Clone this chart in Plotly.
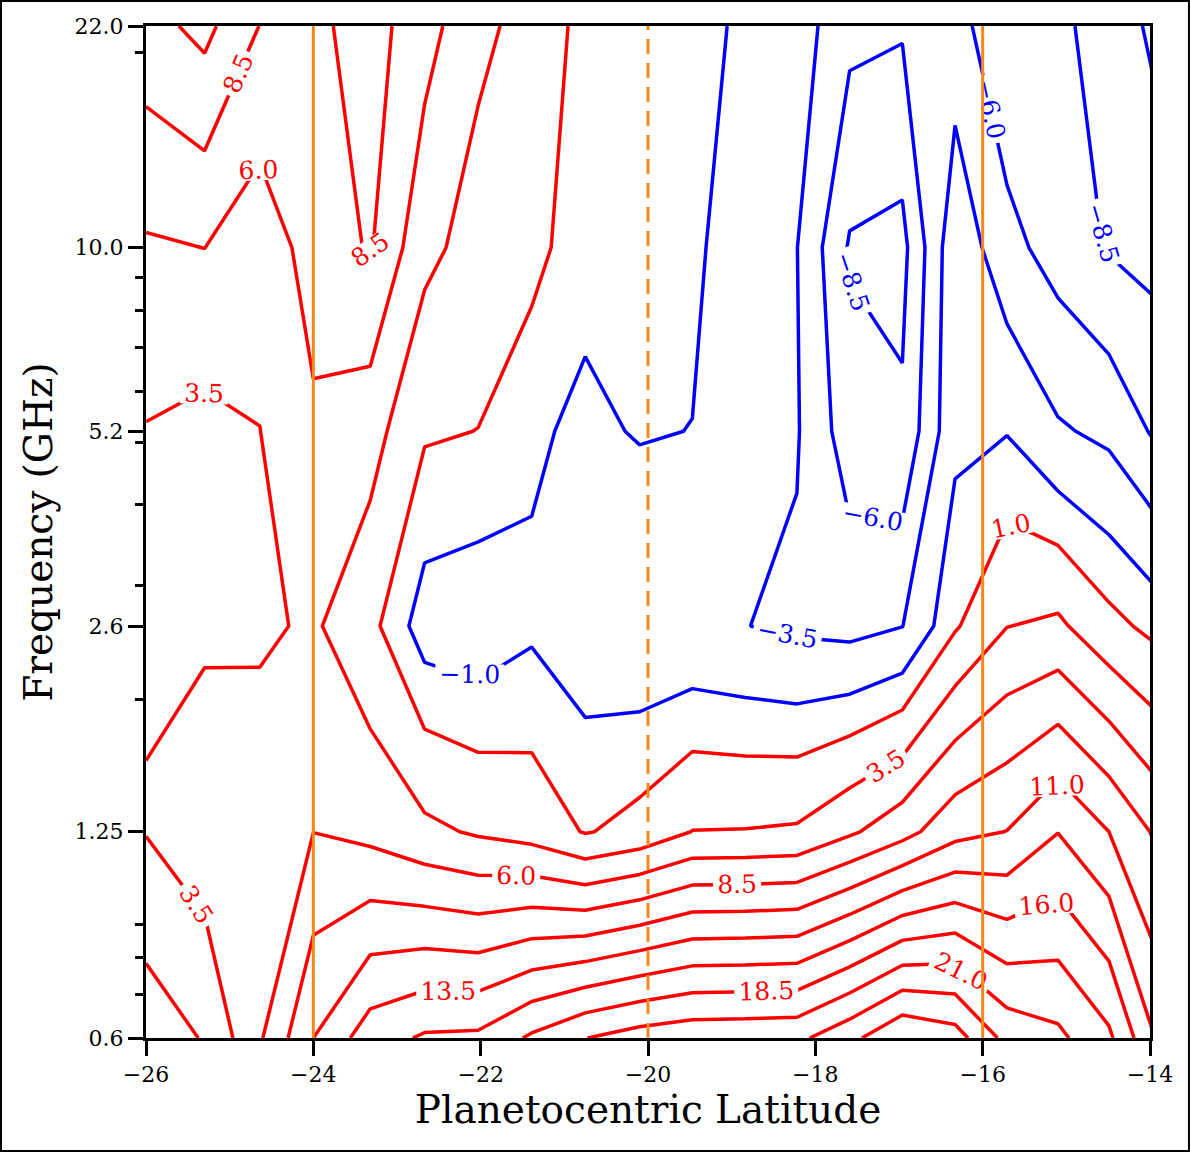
import plotly.graph_objects as go

# Latitude grid (degrees, planetocentric) and the six radiometer frequencies (GHz)
latitude = [-26.0, -25.3, -24.64, -24.0, -23.32, -22.67, -22.03, -21.39, -20.75, -20.1,
            -19.47, -18.84, -18.22, -17.59, -16.96, -16.33, -15.71, -15.1, -14.49, -13.88]
frequency_ghz = [0.6, 1.25, 2.6, 5.2, 10.0, 22.0]

# Residual values, one row per frequency
resid_0p6 = [-0.47, 1.18, 5.7, 11.0, 14.85, 16.32, 16.5, 18.9, 20.95, 22.1,
             22.7, 22.8, 22.92, 25.3, 28.3, 27.1, 22.7, 21.56, 18.97, 12.9]
resid_1p25 = [3.59, 5.07, 5.1, 5.98, 5.32, 4.07, 3.2, 2.5, 0.84, 1.8,
              3.55, 3.6, 3.81, 5.6, 7.6, 10.2, 11.05, 13.45, 11.0, 7.88]
resid_2p6 = [3.33, 3.1, 3.1, 3.84, 1.68, -2.09, -2.5, -1.4, -2.47, -3.0,
             -2.99, -3.45, -3.93, -4.27, -3.55, 0.73, 3.45, 3.97, 1.7, 0.21]
resid_5p2 = [3.38, 2.77, 3.47, 5.6, 4.5, 1.27, 0.97, -0.69, -1.41, -0.85,
             -1.03, -2.0, -3.3, -7.39, -8.05, -1.56, -1.1, -3.2, -4.06, -6.61]
resid_10 = [5.7, 6.02, 4.5, 7.0, 8.74, 4.17, 2.5, 1.8, -0.4, -0.2,
            -0.6, -2.14, -3.45, -8.76, -9.26, -1.66, -5.2, -7.06, -8.7, -9.3]
resid_22 = [10.1, 11.7, 8.45, 7.96, 9.5, 7.0, 4.06, 2.69, 0.2, 0.0,
            -0.3, -1.36, -2.3, -5.3, -5.72, -5.0, -8.03, -8.2, -9.1, -12.0]
residual = [resid_0p6, resid_1p25, resid_2p6, resid_5p2, resid_10, resid_22]

# Contour levels: negative (blue) and positive (red)
neg_levels = dict(start=-11.0, end=-1.0, size=2.5)
pos_levels = dict(start=1.0, end=26.0, size=2.5)

# Axis ticks
lat_ticks = [-26, -24, -22, -20, -18, -16, -14]
freq_ticks = [0.6, 1.25, 2.6, 5.2, 10.0, 22.0]
freq_tick_text = ["0.6", "1.25", "2.6", "5.2", "10.0", "22.0"]
freq_minor = [0.7, 0.8, 0.9, 2, 3, 4, 5, 6, 7, 8, 9, 20]

# Reference latitudes marked with vertical lines
marker_lats = [-24, -20, -16]
marker_dash = ["solid", "15px,9px", "solid"]

SERIF = "DejaVu Serif"
ORANGE = "#f5871f"


def contour_trace(levels, color):
    return go.Contour(
        x=latitude, y=frequency_ghz, z=residual,
        autocontour=False,
        contours=dict(start=levels["start"], end=levels["end"], size=levels["size"],
                      coloring="lines", showlabels=True, labelformat=".1f",
                      labelfont=dict(family=SERIF, size=25, color=color)),
        colorscale=[[0, color], [1, color]], showscale=False,
        line=dict(width=3.5, smoothing=0),
        hoverinfo="skip",
    )


fig = go.Figure()
fig.add_trace(contour_trace(neg_levels, "#0000ff"))
fig.add_trace(contour_trace(pos_levels, "#ff0000"))

for lat, dash in zip(marker_lats, marker_dash):
    fig.add_shape(type="line", xref="x", yref="paper", x0=lat, x1=lat, y0=0, y1=1,
                  line=dict(color=ORANGE, width=3, dash=dash), layer="above")

# thin frame around the whole figure
fig.add_shape(type="rect", xref="paper", yref="paper",
              x0=-0.1444, x1=1.0388, y0=-0.1117, y1=1.0247,
              line=dict(color="black", width=2), layer="above")

fig.update_layout(
    width=1191, height=1153,
    margin=dict(l=146, r=41, t=26, b=115),
    paper_bgcolor="white", plot_bgcolor="white",
    font=dict(family=SERIF, color="black"),
    showlegend=False,
    xaxis=dict(
        range=[-26, -14], tickvals=lat_ticks, ticks="outside", ticklen=15, tickwidth=3,
        tickcolor="black", showline=True, linecolor="black", linewidth=3, mirror=True,
        showgrid=False, zeroline=False, tickfont=dict(family=SERIF, size=22),
        title=dict(text="Planetocentric Latitude", font=dict(family=SERIF, size=39), standoff=8),
    ),
    yaxis=dict(
        type="log", range=[-0.22185, 1.34242],
        tickvals=freq_ticks, ticktext=freq_tick_text, ticks="outside", ticklen=15, tickwidth=3,
        tickcolor="black", showline=True, linecolor="black", linewidth=3, mirror=True,
        showgrid=False, zeroline=False, tickfont=dict(family=SERIF, size=22),
        minor=dict(tickvals=freq_minor, ticks="outside", ticklen=8, tickwidth=3,
                   tickcolor="black", showgrid=False),
        title=dict(text="Frequency (GHz)", font=dict(family=SERIF, size=39), standoff=10),
    ),
)

fig.write_html("out.html")
